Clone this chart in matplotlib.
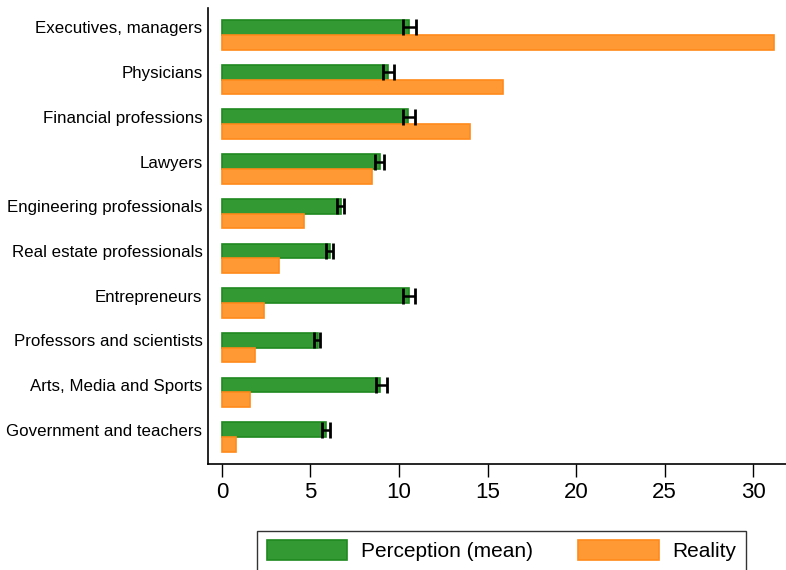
import matplotlib
matplotlib.use("Agg")
import matplotlib.pyplot as plt
import numpy as np

plt.rcParams["font.family"] = ["Liberation Sans", "DejaVu Sans"]

categories = [
    "Executives, managers",
    "Physicians",
    "Financial professions",
    "Lawyers",
    "Engineering professionals",
    "Real estate professionals",
    "Entrepreneurs",
    "Professors and scientists",
    "Arts, Media and Sports",
    "Government and teachers",
]
perception = [10.55, 9.4, 10.5, 8.9, 6.7, 6.1, 10.55, 5.4, 8.95, 5.85]
perception_lo = [10.2, 9.1, 10.2, 8.65, 6.5, 5.9, 10.2, 5.2, 8.7, 5.65]
perception_hi = [10.95, 9.7, 10.9, 9.15, 6.9, 6.3, 10.9, 5.55, 9.3, 6.1]
reality = [31.2, 15.9, 14.0, 8.45, 4.65, 3.25, 2.35, 1.85, 1.6, 0.8]

green_fill = "#339933"
green_edge = "#1f8a1f"
orange_fill = "#ff9933"
orange_edge = "#ff8a1a"

fig = plt.figure(figsize=(7.86, 5.70), dpi=100)
ax = fig.add_axes([0.2646, 0.186, 0.7354, 0.800])

y = np.arange(len(categories))
h = 0.33
ax.barh(y - h / 2, perception, height=h, color=green_fill, edgecolor=green_edge,
        linewidth=1.2, label="Perception (mean)")
ax.barh(y + h / 2, reality, height=h, color=orange_fill, edgecolor=orange_edge,
        linewidth=1.2, label="Reality")

perc = np.array(perception)
xerr = [perc - np.array(perception_lo), np.array(perception_hi) - perc]
ax.errorbar(perc, y - h / 2, xerr=xerr, fmt="none", ecolor="black",
            elinewidth=1.8, capsize=5.5, capthick=2)

ax.set_ylim(len(categories) - 0.4, -0.6)
ax.set_xlim(-0.79, 31.86)
# labels sit level with the perception bars
ax.set_yticks(y - h / 2)
ax.set_yticklabels(categories, fontsize=12.2)
ax.tick_params(axis="y", length=0, pad=4)
ax.set_xticks([0, 5, 10, 15, 20, 25, 30])
ax.tick_params(axis="x", labelsize=16, length=9, width=1, pad=4)

for side in ["top", "right"]:
    ax.spines[side].set_visible(False)
for side in ["left", "bottom"]:
    ax.spines[side].set_linewidth(1.2)

handles, labels = ax.get_legend_handles_labels()
leg = fig.legend(handles, labels, loc="upper center", ncol=2,
                 bbox_to_anchor=(0.638, 0.0684), fontsize=15,
                 handlelength=3.85, handleheight=1.06, handletextpad=0.65,
                 columnspacing=2.2, borderpad=0.45, borderaxespad=0,
                 fancybox=False, frameon=True, edgecolor="black")
leg.get_frame().set_linewidth(1.0)

fig.savefig("out.png", dpi=100)
